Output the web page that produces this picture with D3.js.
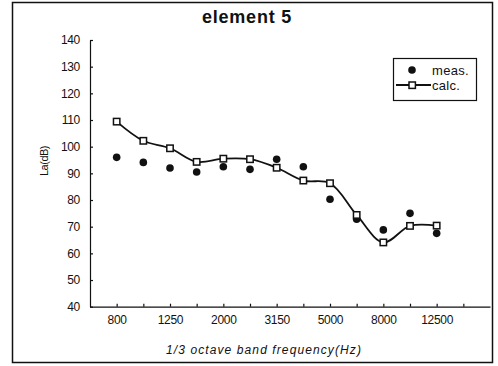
<!DOCTYPE html>
<html>
<head>
<meta charset="utf-8">
<script src="https://cdn.jsdelivr.net/npm/d3@7"></script>
<style>
  body { margin: 0; background: #fff; }
  svg { font-family: "Liberation Sans", Arial, sans-serif; }
</style>
</head>
<body>
<svg id="chart"></svg>
<script>
// 1/3 octave bands, 800 Hz .. 12.5 kHz
const bands = ['800','1000','1250','1600','2000','2500','3150','4000','5000','6300','8000','10000','12500'];
const meas = [96.0, 94.1, 92.0, 90.5, 92.5, 91.5, 95.3, 92.5, 80.3, 72.8, 68.8, 75.0, 67.5];
const calc = [109.4, 102.2, 99.4, 94.3, 95.5, 95.3, 92.1, 87.3, 86.3, 74.4, 64.1, 70.3, 70.4];
const yTicks = [40, 50, 60, 70, 80, 90, 100, 110, 120, 130, 140];

const w = 498;
const h = 366;

const svg = d3.select('#chart')
  .attr('width', w)
  .attr('height', h);

// outer frame
svg.append('rect')
  .attr('x', 12.5)
  .attr('y', 2.5)
  .attr('width', 480)
  .attr('height', 360)
  .attr('fill', 'none')
  .attr('stroke', '#111')
  .attr('stroke-width', 1.5);

const xScale = d3.scaleLinear()
  .domain([-1, 14])
  .range([90, 490]);

const yScale = d3.scaleLinear()
  .domain([40, 140])
  .range([306.7, 40]);

const xAxis = d3.axisBottom(xScale)
  .tickValues(d3.range(0, 14))
  .tickFormat(i => (i % 2 === 0 && bands[i]) ? bands[i] : '')
  .tickSize(-3)
  .tickSizeOuter(0)
  .tickPadding(9);

const yAxis = d3.axisLeft(yScale)
  .tickValues(yTicks)
  .tickSize(-3)
  .tickSizeOuter(0)
  .tickPadding(10);

const gx = svg.append('g')
  .attr('transform', `translate(0,${yScale(40)})`)
  .call(xAxis);

const gy = svg.append('g')
  .attr('transform', `translate(${xScale(-1)},0)`)
  .call(yAxis);

[gx, gy].forEach(g => {
  g.selectAll('path, line').attr('stroke', '#111').attr('stroke-width', 1.2);
  g.selectAll('text')
    .attr('fill', '#111')
    .style('font-size', '12px')
    .style('letter-spacing', '-0.3px');
});

// title
svg.append('text')
  .attr('x', 247)
  .attr('y', 23)
  .attr('text-anchor', 'middle')
  .style('font-size', '18px')
  .style('font-weight', 'bold')
  .style('letter-spacing', '0.8px')
  .attr('fill', '#111')
  .text('element 5');

// axis titles
svg.append('text')
  .attr('x', 264)
  .attr('y', 354)
  .attr('text-anchor', 'middle')
  .style('font-size', '12px')
  .style('font-style', 'italic')
  .style('letter-spacing', '1.1px')
  .attr('fill', '#111')
  .text('1/3 octave band frequency(Hz)');

svg.append('text')
  .attr('transform', 'translate(48,161) rotate(-90)')
  .attr('text-anchor', 'middle')
  .style('font-size', '11px')
  .style('letter-spacing', '-0.5px')
  .attr('fill', '#111')
  .text('La(dB)');

// calc curve
const line = d3.line()
  .x((d, i) => xScale(i))
  .y(d => yScale(d))
  .curve(d3.curveCatmullRom.alpha(0.5));

svg.append('path')
  .datum(calc)
  .attr('fill', 'none')
  .attr('stroke', '#111')
  .attr('stroke-width', 1.8)
  .attr('d', line);

// measured dots
svg.selectAll('.meas')
  .data(meas)
  .enter()
  .append('circle')
  .attr('class', 'meas')
  .attr('cx', (d, i) => xScale(i))
  .attr('cy', d => yScale(d))
  .attr('r', 3.8)
  .attr('fill', '#111');

// calc squares
svg.selectAll('.calc')
  .data(calc)
  .enter()
  .append('rect')
  .attr('class', 'calc')
  .attr('x', (d, i) => xScale(i) - 3.2)
  .attr('y', d => yScale(d) - 3.2)
  .attr('width', 6.4)
  .attr('height', 6.4)
  .attr('fill', '#fff')
  .attr('stroke', '#111')
  .attr('stroke-width', 1.5);

// legend
const lg = svg.append('g');
lg.append('rect')
  .attr('x', 393.5)
  .attr('y', 58.5)
  .attr('width', 83)
  .attr('height', 42)
  .attr('fill', '#fff')
  .attr('stroke', '#111')
  .attr('stroke-width', 1.2);
lg.append('circle')
  .attr('cx', 412)
  .attr('cy', 70)
  .attr('r', 3.8)
  .attr('fill', '#111');
lg.append('line')
  .attr('x1', 396)
  .attr('x2', 431)
  .attr('y1', 85)
  .attr('y2', 85)
  .attr('stroke', '#111')
  .attr('stroke-width', 1.8);
lg.append('rect')
  .attr('x', 409)
  .attr('y', 82)
  .attr('width', 6.4)
  .attr('height', 6.4)
  .attr('fill', '#fff')
  .attr('stroke', '#111')
  .attr('stroke-width', 1.5);
lg.selectAll('.lgtext')
  .data(['meas.', 'calc.'])
  .enter()
  .append('text')
  .attr('class', 'lgtext')
  .attr('x', 432)
  .attr('y', (d, i) => 74.5 + i * 15)
  .style('font-size', '13px')
  .style('letter-spacing', '0.3px')
  .attr('fill', '#111')
  .text(d => d);
</script>
</body>
</html>
